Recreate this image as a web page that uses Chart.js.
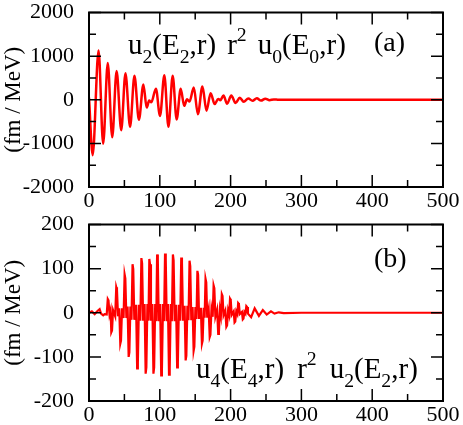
<!DOCTYPE html>
<html>
<head>
<meta charset="utf-8">
<script src="https://cdn.jsdelivr.net/npm/chart.js@4/dist/chart.umd.min.js"></script>
<style>
  body { margin: 0; background: #fff; }
  #wrap { position: relative; width: 463px; height: 425px; }
  #wrap canvas { position: absolute; left: 0; }
</style>
</head>
<body>
<div id="wrap">
  <canvas id="chartA" width="463" height="212" style="top:0"></canvas>
  <canvas id="chartB" width="463" height="213" style="top:212px"></canvas>
</div>
<script>
// panel (a): extrema of u2(E2,r) r^2 u0(E0,r)
var rA = [0, 5.2, 13.5, 20.0, 26.5, 32.8, 39.0, 45.5, 51.5, 58.0, 64.2, 70.5, 76.8, 81.5, 85.0, 88.0,
  94.5, 100.3, 106.4, 112.2, 118.2, 123.8, 129.5, 134.5, 138.5, 142.0, 148.0, 153.8, 160.2, 166.0,
  171.8, 177.5, 182.5, 185.5, 190.0, 195.0, 201.0, 207.0, 213.0, 218.5, 225, 231, 237, 243, 249,
  255, 261, 268, 500];
var valA = [50, -1270, 1130, -1010, 840, -860, 660, -700, 610, -620, 550, -460, 350, -180, -20, -60,
  255, -370, 560, -620, 550, -450, 250, -140, 10, -40, 280, -330, 305, -250,
  150, -100, 20, -10, 95, -90, 95, -75, 45, -45, 30, -25, 35, -20, 25,
  -10, 8, 0, 0];

// panel (b): u4(E4,r) r^2 u2(E2,r), one group of four per spike of the fast oscillation
var rB = [0, 4, 8, 12, 15, 17, 20, 22,
  25, 26.5, 27.5, 29,       30.5, 31.5, 32.5, 34,
  37, 38.5, 39.5, 41,       42.7, 44.2, 45.2, 46.7,
  48.8, 50.3, 51.3, 52.8,   54.5, 56, 57, 58.5,
  60, 61.5, 62.5, 64,       66.5, 68, 69, 70.5,
  72.5, 74, 75, 76.5,       78.5, 80, 81, 82.5,
  84, 85.2, 86.2, 87.5,     89.5, 91, 92, 93.5,
  95, 96.2, 97.2, 98.5,     100.5, 102, 103, 104.5,
  106, 107.4, 108.4, 109.8, 111.5, 113, 114, 115.5,
  117, 118.5, 119.5, 121,   123, 124.5, 125.5, 127,
  128.8, 130.3, 131.3, 132.8, 135, 136.5, 137.5, 139,
  140.5, 142, 143, 144.5,   146.3, 147.8, 148.8, 150.3,
  151.8, 153.1, 154.1, 155.5, 158, 159.5, 160.5, 162,
  163.3, 164.6, 165.6, 167, 169, 170.5, 171.5, 173,
  174.7, 176, 177, 178.5,   181, 182.5, 183.5, 185,
  186.3, 187.6, 188.6, 190, 192.5, 194, 195, 196.5,
  198, 199.2, 200.2, 201.5, 204.3, 205.6, 206.6, 208,
  209.5, 210.7, 211.7, 213, 216, 217.2, 218.2, 219.5,
  221, 222.2, 223.2, 224.5,
  229, 234, 240, 245.5, 251, 257, 262, 268, 275, 300, 500];
var valB = [0, 3, -3, 4, 8, -2, -6, -3,
  -4, 31, 28, -4,           6, -44, -40, 6,
  -8, 58, 52, -8,           10, -70, -63, 10,
  -12, 87, 78, -12,         14, -100, -90, 14,
  -16, 110, 99, -16,        18, -126, -113, 18,
  -18, 124, 112, -18,       20, -138, -124, 20,
  -18, 122, 110, -18,       20, -138, -124, 20,
  -19, 132, 119, -19,       20, -142, -128, 20,
  -19, 134, 121, -19,       20, -140, -126, 20,
  -19, 132, 119, -19,       18, -124, -112, 18,
  -18, 125, 113, -18,       16, -108, -97, 16,
  -17, 118, 106, -17,       13, -86, -77, 13,
  -14, 95, 86, -14,         11, -70, -63, 11,
  -11, 77, 69, -11,         8, -55, -50, 8,
  -9, 62, 56, -9,           7, -48, -43, 7,
  -6, 42, 38, -6,           5, -32, -29, 5,
  -5, 32, 29, -5,           3, -22, -20, 3,
  -3, 22, 20, -3,           2, -15, -13, 2,
  -2, 15, 13, -2,
  -10, 10, -7, 6, -4, 3, -2, 1, -1, 0, 0];

var xTicks = [0, 100, 200, 300, 400, 500];
var yTicksA = [-2000, -1000, 0, 1000, 2000];
var yTicksB = [-200, -100, 0, 100, 200];

var SERIF = "'Liberation Serif', 'Times New Roman', serif";

function toPoints(xs, ys) {
  return xs.map(function(x, i) { return { x: x, y: ys[i] }; });
}

// label with sub/superscripts: parts are [text, 'n'|'sub'|'sup'] or [px, 'gap']
function drawRich(ctx, parts, x, y, size) {
  ctx.save();
  ctx.fillStyle = '#000';
  ctx.textBaseline = 'alphabetic';
  parts.forEach(function(p) {
    if (p[1] === 'gap') { x += p[0]; return; }
    var s = size, dy = 0;
    if (p[1] === 'sub') { s = size * 0.68; dy = size * 0.3; }
    if (p[1] === 'sup') { s = size * 0.68; dy = -size * 0.45; }
    ctx.font = s + 'px ' + SERIF;
    ctx.fillText(p[0], x, y + dy);
    x += ctx.measureText(p[0]).width;
  });
  ctx.restore();
}

// inward ticks on all four sides + frame, drawn over the curve
var framePlugin = {
  id: 'frame',
  afterDatasetsDraw: function(chart, args, opts) {
    var ctx = chart.ctx, a = chart.chartArea;
    var xs = chart.scales.x, ys = chart.scales.y;
    ctx.save();
    ctx.strokeStyle = '#000';
    ctx.lineWidth = 1.5;
    ctx.beginPath();
    for (var v = 0; v <= 500; v += 50) {
      var px = xs.getPixelForValue(v);
      var len = (v % 100 === 0) ? 12 : 7;
      ctx.moveTo(px, a.bottom); ctx.lineTo(px, a.bottom - len);
      ctx.moveTo(px, a.top); ctx.lineTo(px, a.top + len);
    }
    for (var w = opts.yMin; w <= opts.yMax; w += opts.yMinor) {
      var py = ys.getPixelForValue(w);
      var l2 = (Math.round(w / opts.yMinor) % 2 === 0) ? 12 : 7;
      ctx.moveTo(a.left, py); ctx.lineTo(a.left + l2, py);
      ctx.moveTo(a.right, py); ctx.lineTo(a.right - l2, py);
    }
    ctx.stroke();
    ctx.lineWidth = 2;
    ctx.strokeRect(a.left, a.top, a.right - a.left, a.bottom - a.top);
    ctx.restore();
    opts.labels.forEach(function(lb) {
      drawRich(ctx, lb.parts, lb.x, lb.y, lb.size);
    });
  }
};

function makeChart(id, xs, ys, yTicks, yMinor, width, tension, pad, xh, labels) {
  var yMin = yTicks[0], yMax = yTicks[yTicks.length - 1];
  return new Chart(document.getElementById(id).getContext('2d'), {
    type: 'line',
    data: {
      datasets: [{
        data: toPoints(xs, ys),
        borderColor: '#ff0000',
        borderWidth: width,
        pointRadius: 0,
        fill: false,
        tension: tension,
        cubicInterpolationMode: tension ? 'monotone' : 'default'
      }]
    },
    options: {
      responsive: false,
      maintainAspectRatio: false,
      animation: false,
      layout: { padding: { top: pad, right: 20, left: 0, bottom: 0 } },
      plugins: {
        legend: { display: false },
        tooltip: { enabled: false },
        frame: { yMin: yMin, yMax: yMax, yMinor: yMinor, labels: labels }
      },
      scales: {
        x: {
          type: 'linear', min: xTicks[0], max: xTicks[xTicks.length - 1],
          grid: { display: false }, border: { display: false },
          afterBuildTicks: function(s) { s.ticks = xTicks.map(function(v) { return { value: v }; }); },
          afterFit: function(s) { s.height = xh; },
          ticks: { color: '#000', padding: 1, maxRotation: 0,
            font: { family: SERIF, size: 22, lineHeight: 0.5 },
            callback: function(v) { return String(v); } }
        },
        y: {
          type: 'linear', min: yMin, max: yMax,
          grid: { display: false }, border: { display: false },
          afterBuildTicks: function(s) { s.ticks = yTicks.map(function(v) { return { value: v }; }); },
          afterFit: function(s) { s.width = 89; },
          title: { display: true, text: '(fm / MeV)', color: '#000', padding: 0,
            font: { family: SERIF, size: 23 } },
          ticks: { color: '#000', padding: 7,
            font: { family: SERIF, size: 22, lineHeight: 0.5 },
            callback: function(v) { return String(v); } }
        }
      }
    },
    plugins: [framePlugin]
  });
}

makeChart('chartA', rA, valA, yTicksA, 500, 2.5, 0.4, 10, 25, [
  { parts: [['u', 'n'], ['2', 'sub'], ['(E', 'n'], ['2', 'sub'], [',r)', 'n'], [11, 'gap'], ['r', 'n'], ['2', 'sup'],
            [11, 'gap'], ['u', 'n'], ['0', 'sub'], ['(E', 'n'], ['0', 'sub'], [',r)', 'n']], x: 128, y: 54, size: 29 },
  { parts: [['(a)', 'n']], x: 374, y: 51, size: 28 }
]);

makeChart('chartB', rB, valB, yTicksB, 50, 2.2, 0, 11, 24, [
  { parts: [['(b)', 'n']], x: 374, y: 55, size: 28 },
  { parts: [['u', 'n'], ['4', 'sub'], ['(E', 'n'], ['4', 'sub'], [',r)', 'n'], [13, 'gap'], ['r', 'n'], ['2', 'sup'],
            [13, 'gap'], ['u', 'n'], ['2', 'sub'], ['(E', 'n'], ['2', 'sub'], [',r)', 'n']], x: 196, y: 166, size: 29 }
]);
</script>
</body>
</html>
